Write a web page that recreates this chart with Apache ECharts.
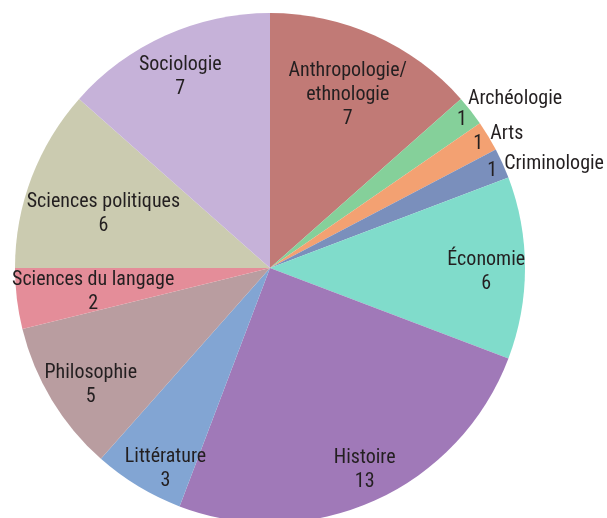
<!DOCTYPE html>
<html><head><meta charset="utf-8">
<script src="https://cdn.jsdelivr.net/npm/echarts@6/dist/echarts.min.js"></script>
<style>html,body{margin:0;padding:0;background:#fff}#c{width:607px;height:518px}</style>
</head><body><div id="c"></div>
<script>
const categories = ['Anthropologie/\nethnologie','Archéologie','Arts','Criminologie','Économie','Histoire','Littérature','Philosophie','Sciences du langage','Sciences politiques','Sociologie'];
const values = [7,1,1,1,6,13,3,5,2,6,7];
const colors = ['#c17a76','#85d09a','#f3a172','#7a8fbc','#80dccb','#a079b8','#82a5d3','#b99da0','#e48d99','#cbcbb0','#c6b2d9'];
const smallSlices = [1,2,3];
// label nudges (layout only)
const labelNudge = [[-2,4],[39,-28],[42,-24],[45,-17],[22,4],[15,25],[-4,35],[-13,17],[16,1],[15,15],[-10,-14]];
const nameNudge = {1:[6,-21],2:[12,-10],3:[12,-7]};

const CX = 270, CY = 268, R = 255;
const font = '"Liberation Sans Narrow", "Roboto Condensed", sans-serif';
const data = categories.map((c,i)=>({name:c, value:values[i], itemStyle:{color:colors[i]}}));
const transparentData = categories.map((c,i)=>({name:c, value:values[i], itemStyle:{color:'rgba(0,0,0,0)'}}));

const chart = echarts.init(document.getElementById('c'), null, {renderer:'canvas'});
chart.setOption({
  animation:false,
  series:[
    {type:'pie', center:[CX,CY], radius:[0,R], startAngle:90, clockwise:true, silent:true,
     avoidLabelOverlap:false, label:{show:false}, labelLine:{show:false},
     itemStyle:{borderWidth:0}, data:data},
    {type:'pie', center:[CX,CY], radius:[R/2,R], startAngle:90, clockwise:true, silent:true,
     avoidLabelOverlap:false, labelLine:{show:false},
     label:{show:true, position:'inside', color:'#231f20', fontFamily:font, fontSize:20, lineHeight:24,
       formatter:p=> smallSlices.includes(p.dataIndex) ? String(p.value) : p.name + '\n' + p.value},
     labelLayout:p=>({dx:labelNudge[p.dataIndex][0], dy:labelNudge[p.dataIndex][1]}),
     data:transparentData},
    {type:'pie', center:[CX,CY], radius:[R/2,R], startAngle:90, clockwise:true, silent:true,
     avoidLabelOverlap:false, labelLine:{show:false},
     label:{show:true, position:'inside', color:'#231f20', fontFamily:font, fontSize:20, lineHeight:24,
       formatter:p=> smallSlices.includes(p.dataIndex) ? p.name : ''},
     labelLayout:p=>{
       if(!smallSlices.includes(p.dataIndex)) return {};
       const n = labelNudge[p.dataIndex], m = nameNudge[p.dataIndex];
       return {dx:n[0]+m[0]+p.labelRect.width/2, dy:n[1]+m[1]};
     },
     data:transparentData}
  ]
});
</script></body></html>
